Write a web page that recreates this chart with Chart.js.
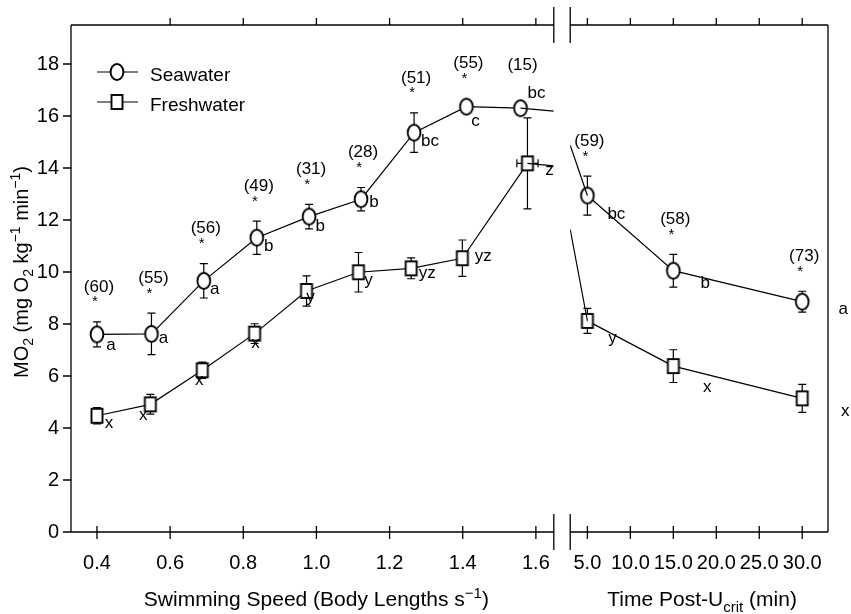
<!DOCTYPE html>
<html>
<head>
<meta charset="utf-8">
<script src="https://cdn.jsdelivr.net/npm/chart.js@4.4.0/dist/chart.umd.min.js"></script>
<style>
  body { margin: 0; background: #fff; }
  #wrap { position: relative; width: 851px; height: 614px; }
  #left { position: absolute; left: 0; top: 0; }
  #right { position: absolute; left: 562px; top: 0; }
</style>
</head>
<body>
<div id="wrap">
  <canvas id="left" width="562" height="614"></canvas>
  <canvas id="right" width="289" height="614"></canvas>
</div>
<script>
const FONT = '"Liberation Sans", Arial, Helvetica, sans-serif';

// axis ranges and ticks
const speedRange = [0.329, 1.649];
const timeRange = [3, 33];
const mo2Range = [0, 19.5];
const speedTicks = [0.4, 0.6, 0.8, 1.0, 1.2, 1.4, 1.6];
const timeTicks = [5, 10, 15, 20, 25, 30];
const mo2Ticks = [0, 2, 4, 6, 8, 10, 12, 14, 16, 18];

// swimming trial, seawater
const speedSea = [0.40, 0.549, 0.692, 0.837, 0.980, 1.122, 1.267, 1.410, 1.558];
const mo2Sea = [7.60, 7.62, 9.66, 11.32, 12.13, 12.80, 15.36, 16.36, 16.30];
const seSea = [0.48, 0.80, 0.66, 0.64, 0.47, 0.45, 0.76, 0.15, 0.15];
const lettersSea = ['a', 'a', 'a', 'b', 'b', 'b', 'bc', 'c', 'bc'];
const nSea = [60, 55, 56, 49, 31, 28, 51, 55, 15];
const starSea = [true, true, true, true, true, true, true, true, false];

// swimming trial, freshwater
const speedFresh = [0.40, 0.546, 0.688, 0.831, 0.973, 1.115, 1.259, 1.399, 1.577];
const mo2Fresh = [4.47, 4.91, 6.22, 7.63, 9.27, 9.99, 10.14, 10.53, 14.18];
const seFresh = [0.31, 0.38, 0.31, 0.38, 0.58, 0.76, 0.40, 0.70, 1.75];
const seSpeedFresh = [0, 0, 0, 0, 0, 0, 0, 0, 0.029];
const lettersFresh = ['x', 'x', 'x', 'x', 'y', 'y', 'yz', 'yz', 'z'];

// recovery after Ucrit
const timePost = [5, 15, 30];
const mo2SeaPost = [12.94, 10.05, 8.86];
const seSeaPost = [0.75, 0.63, 0.40];
const lettersSeaPost = ['bc', 'b', 'a'];
const nSeaPost = [59, 58, 73];
const starSeaPost = [true, true, true];
const mo2FreshPost = [8.12, 6.38, 5.14];
const seFreshPost = [0.48, 0.63, 0.54];
const lettersFreshPost = ['y', 'x', 'x'];

// where the joining lines cross the axis break (left edge, right edge)
const seaAtBreak = [16.19, 14.88];
const freshAtBreak = [14.08, 11.64];

// letter placement next to each marker
const nudgeSea = [[14, 11], [12, 4], [11, 8], [12, 9], [11, 10], [13, 3], [16, 9], [9, 15], [16, -15]];
const nudgeFresh = [[12, 8], [-7, 11], [-3, 10], [1, 10], [4, 6], [10, 8], [16, 5], [21, -2], [22, 7]];
const nudgeSeaPost = [[29, 19], [32, 13], [41, 8]];
const nudgeFreshPost = [[25, 17], [34, 21], [43, 13]];

function marker(kind) {
  const c = document.createElement('canvas');
  c.width = 18; c.height = 20;
  const g = c.getContext('2d');
  g.fillStyle = '#fff'; g.strokeStyle = '#000'; g.lineWidth = 1.9;
  if (kind === 'circle') {
    g.beginPath(); g.ellipse(9, 10, 6.4, 8, 0, 0, Math.PI * 2); g.fill(); g.stroke();
  } else {
    g.fillRect(3.5, 3, 11, 14); g.strokeRect(3.5, 3, 11, 14);
  }
  return c;
}
const circleImg = marker('circle');
const squareImg = marker('square');

const pts = (xs, ys) => xs.map((x, i) => ({ x: x, y: ys[i] }));

function series(label, data, img, extra) {
  return Object.assign({
    label: label, data: data, showLine: true, borderColor: '#000', borderWidth: 1.2,
    pointStyle: img, pointRadius: 7, tension: 0
  }, extra);
}
function bridge(data) {
  return { data: data, showLine: true, borderColor: '#000', borderWidth: 1.2, pointRadius: 0 };
}

const errorBars = {
  id: 'errorBars',
  beforeDatasetsDraw(chart) {
    const { ctx, scales: { x, y } } = chart;
    ctx.save();
    ctx.strokeStyle = '#000'; ctx.lineWidth = 1.2;
    chart.data.datasets.forEach(ds => {
      if (!ds.se) return;
      ds.data.forEach((p, i) => {
        const px = x.getPixelForValue(p.x), py = y.getPixelForValue(p.y);
        const t = y.getPixelForValue(p.y + ds.se[i]), b = y.getPixelForValue(p.y - ds.se[i]);
        ctx.beginPath();
        ctx.moveTo(px, t); ctx.lineTo(px, b);
        ctx.moveTo(px - 4, t); ctx.lineTo(px + 4, t);
        ctx.moveTo(px - 4, b); ctx.lineTo(px + 4, b);
        const sx = ds.sx ? ds.sx[i] : 0;
        if (sx) {
          const l = x.getPixelForValue(p.x - sx), r = x.getPixelForValue(p.x + sx);
          ctx.moveTo(l, py); ctx.lineTo(r, py);
          ctx.moveTo(l, py - 4); ctx.lineTo(l, py + 4);
          ctx.moveTo(r, py - 4); ctx.lineTo(r, py + 4);
        }
        ctx.stroke();
      });
    });
    ctx.restore();
  }
};

const pointNotes = {
  id: 'pointNotes',
  afterDatasetsDraw(chart) {
    const { ctx, scales: { x, y } } = chart;
    ctx.save();
    ctx.fillStyle = '#000'; ctx.textAlign = 'center';
    chart.data.datasets.forEach(ds => {
      if (!ds.letters) return;
      ds.data.forEach((p, i) => {
        const px = x.getPixelForValue(p.x), py = y.getPixelForValue(p.y);
        ctx.font = '17px ' + FONT; ctx.textBaseline = 'middle';
        ctx.fillText(ds.letters[i], px + ds.nudge[i][0], py + ds.nudge[i][1]);
        if (ds.nFish) {
          const top = Math.min(y.getPixelForValue(p.y + ds.se[i]), py - 8);
          const starY = top - 24;
          if (ds.stars[i]) {
            ctx.font = '15px ' + FONT; ctx.textBaseline = 'alphabetic';
            ctx.fillText('*', px - 2, starY + 8.5);
          }
          ctx.font = '17px ' + FONT; ctx.textBaseline = 'middle';
          ctx.fillText('(' + ds.nFish[i] + ')', px + 2, starY - 11);
        }
      });
    });
    ctx.restore();
  }
};

// text with sub/superscript pieces, centred on cx, baseline at by
function richText(ctx, parts, cx, by, size) {
  let w = 0;
  parts.forEach(p => { ctx.font = (p.s || size) + 'px ' + FONT; p.w = ctx.measureText(p.t).width; w += p.w; });
  let px = cx - w / 2;
  ctx.textAlign = 'left'; ctx.textBaseline = 'alphabetic';
  parts.forEach(p => { ctx.font = (p.s || size) + 'px ' + FONT; ctx.fillText(p.t, px, by + (p.dy || 0)); px += p.w; });
}

function frame(side) {
  return {
    id: 'frame',
    afterDraw(chart) {
      const { ctx, chartArea: { left, right, top, bottom }, scales: { x, y } } = chart;
      ctx.save();
      ctx.strokeStyle = '#000'; ctx.lineWidth = 1.3;
      ctx.beginPath();
      ctx.moveTo(left, top); ctx.lineTo(right, top);
      ctx.moveTo(left, bottom); ctx.lineTo(right, bottom);
      if (side === 'left') {
        ctx.moveTo(left, top); ctx.lineTo(left, bottom);
        y.ticks.forEach(t => {
          const py = y.getPixelForValue(t.value);
          ctx.moveTo(left - 8, py); ctx.lineTo(left, py);
        });
      } else {
        ctx.moveTo(right, top); ctx.lineTo(right, bottom);
      }
      x.ticks.forEach((t, i) => {
        const px = x.getPixelForValue(t.value);
        ctx.moveTo(px, bottom - 6); ctx.lineTo(px, bottom + 7);
        if (!(side === 'left' && i === 0)) { ctx.moveTo(px, top); ctx.lineTo(px, top - 7); }
      });
      // axis break marks
      const bx = side === 'left' ? right : left;
      ctx.moveTo(bx, top - 18); ctx.lineTo(bx, top + 18);
      ctx.moveTo(bx, bottom - 18); ctx.lineTo(bx, bottom + 18);
      ctx.stroke();

      ctx.fillStyle = '#000';
      if (side === 'left') {
        richText(ctx, [
          { t: 'Swimming Speed (Body Lengths s' }, { t: '\u22121', s: 15, dy: -8 }, { t: ')' }
        ], (left + right) / 2 + 4, 606, 21);

        ctx.save();
        ctx.translate(28, 272);
        ctx.rotate(-Math.PI / 2);
        richText(ctx, [
          { t: 'MO' }, { t: '2', s: 14, dy: 5 }, { t: ' (mg O' }, { t: '2', s: 14, dy: 5 },
          { t: ' kg' }, { t: '\u22121', s: 14, dy: -8 }, { t: ' min' }, { t: '\u22121', s: 14, dy: -8 }, { t: ')' }
        ], 0, 0, 20);
        ctx.restore();

        // legend
        const rows = [['Seawater', circleImg, 72], ['Freshwater', squareImg, 102]];
        rows.forEach(r => {
          ctx.beginPath(); ctx.lineWidth = 1.2;
          ctx.moveTo(97, r[2]); ctx.lineTo(138, r[2]); ctx.stroke();
          ctx.drawImage(r[1], 117 - r[1].width / 2, r[2] - r[1].height / 2);
          ctx.font = '19px ' + FONT; ctx.textAlign = 'left'; ctx.textBaseline = 'alphabetic';
          ctx.fillText(r[0], 150, r[2] + 9);
        });
      } else {
        richText(ctx, [
          { t: 'Time Post-U' }, { t: 'crit', s: 15, dy: 6 }, { t: ' (min)' }
        ], (left + right) / 2 + 3, 606, 21);
      }
      ctx.restore();
    }
  };
}

function xScale(range, ticks) {
  return {
    type: 'linear', min: range[0], max: range[1],
    afterBuildTicks: s => { s.ticks = ticks.map(v => ({ value: v })); },
    afterFit: s => { s.height = 82; s.paddingLeft = 0; s.paddingRight = 0; },
    grid: { display: false, drawTicks: false },
    border: { display: false },
    ticks: {
      autoSkip: false, maxRotation: 0, minRotation: 0, padding: 19, color: '#000',
      font: { family: FONT, size: 20 },
      callback: v => Number(v).toFixed(1)
    }
  };
}

function yScale(show) {
  return {
    type: 'linear', min: mo2Range[0], max: mo2Range[1], display: show,
    afterBuildTicks: s => { s.ticks = mo2Ticks.map(v => ({ value: v })); },
    afterFit: s => { s.width = show ? 71 : 0; s.paddingTop = 0; s.paddingBottom = 0; },
    grid: { display: false, drawTicks: false },
    border: { display: false },
    ticks: { padding: 12, color: '#000', font: { family: FONT, size: 20 }, callback: v => String(v) }
  };
}

const common = {
  responsive: false, animation: false, devicePixelRatio: 1,
  plugins: { legend: { display: false }, tooltip: { enabled: false } }
};

new Chart(document.getElementById('left'), {
  type: 'scatter',
  data: {
    datasets: [
      bridge([{ x: speedSea[speedSea.length - 1], y: mo2Sea[mo2Sea.length - 1] }, { x: speedRange[1], y: seaAtBreak[0] }]),
      bridge([{ x: speedFresh[speedFresh.length - 1], y: mo2Fresh[mo2Fresh.length - 1] }, { x: speedRange[1], y: freshAtBreak[0] }]),
      series('Freshwater', pts(speedFresh, mo2Fresh), squareImg,
        { se: seFresh, sx: seSpeedFresh, letters: lettersFresh, nudge: nudgeFresh }),
      series('Seawater', pts(speedSea, mo2Sea), circleImg,
        { se: seSea, letters: lettersSea, nudge: nudgeSea, nFish: nSea, stars: starSea })
    ]
  },
  options: Object.assign({}, common, {
    layout: { padding: { top: 25, right: 4, left: 0, bottom: 0 } },
    scales: { x: xScale(speedRange, speedTicks), y: yScale(true) }
  }),
  plugins: [errorBars, pointNotes, frame('left')]
});

new Chart(document.getElementById('right'), {
  type: 'scatter',
  data: {
    datasets: [
      bridge([{ x: timeRange[0], y: seaAtBreak[1] }, { x: timePost[0], y: mo2SeaPost[0] }]),
      bridge([{ x: timeRange[0], y: freshAtBreak[1] }, { x: timePost[0], y: mo2FreshPost[0] }]),
      series('Freshwater', pts(timePost, mo2FreshPost), squareImg,
        { se: seFreshPost, letters: lettersFreshPost, nudge: nudgeFreshPost }),
      series('Seawater', pts(timePost, mo2SeaPost), circleImg,
        { se: seSeaPost, letters: lettersSeaPost, nudge: nudgeSeaPost, nFish: nSeaPost, stars: starSeaPost })
    ]
  },
  options: Object.assign({}, common, {
    layout: { padding: { top: 25, right: 23, left: 8, bottom: 0 } },
    scales: { x: xScale(timeRange, timeTicks), y: yScale(false) }
  }),
  plugins: [errorBars, pointNotes, frame('right')]
});
</script>
</body>
</html>
